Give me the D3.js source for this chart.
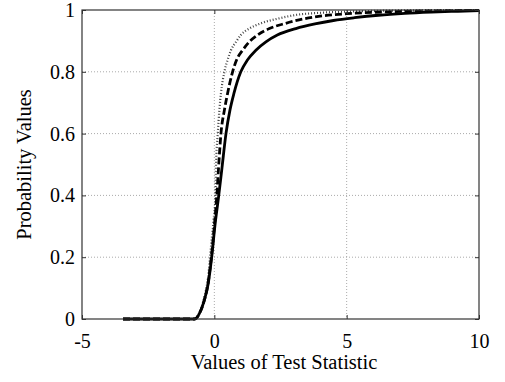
<!DOCTYPE html>
<html lang="en">
	<head>
		<meta charset="utf-8">
		<title>CDF of test statistic</title>
		<script type="text/javascript" src="https://d3js.org/d3.v7.min.js"></script>
		<style type="text/css">
			body {
				margin: 0;
				background-color: #ffffff;
			}
			svg text {
				font-family: "Liberation Serif", "Times New Roman", serif;
				fill: #000;
			}
			.tick text {
				font-size: 20px;
			}
		</style>
	</head>
	<body>
		<script type="text/javascript">

			// x tick values and y tick values
			var xTicks = [-5, 0, 5, 10];
			var yTicks = [0, 0.2, 0.4, 0.6, 0.8, 1];

			// Solid curve
			var solidX = [-3.45, -0.75, -0.5, -0.38, -0.23, -0.1, 0.02, 0.16, 0.29, 0.44, 0.59, 0.74, 1.0, 1.25, 1.57, 1.95, 2.38, 3.08, 3.8, 4.5, 5.3, 6.2, 7.2, 8.2, 9.2, 10];
			var solidP = [0, 0, 0.03, 0.06, 0.115, 0.2, 0.3, 0.395, 0.49, 0.6, 0.676, 0.73, 0.8, 0.838, 0.87, 0.897, 0.919, 0.94, 0.955, 0.966, 0.975, 0.983, 0.989, 0.993, 0.996, 0.998];

			// Dashed curve
			var dashX = [-3.45, -0.75, -0.5, -0.38, -0.23, -0.1, 0, 0.09, 0.16, 0.25, 0.38, 0.5, 0.69, 0.84, 1.07, 1.32, 1.63, 2.08, 2.7, 3.2, 4, 5, 6.5, 8, 10];
			var dashP = [0, 0, 0.03, 0.06, 0.12, 0.21, 0.3, 0.395, 0.49, 0.6, 0.676, 0.73, 0.8, 0.838, 0.87, 0.897, 0.919, 0.94, 0.957, 0.968, 0.98, 0.988, 0.994, 0.997, 0.999];

			// Dotted curve
			var dotX = [-3.45, -0.75, -0.5, -0.38, -0.23, -0.12, -0.03, 0.04, 0.06, 0.13, 0.19, 0.25, 0.38, 0.5, 0.63, 0.82, 1.0, 1.32, 1.76, 2.45, 3.08, 4, 5.5, 7.5, 10];
			var dotP = [0, 0, 0.035, 0.07, 0.14, 0.24, 0.32, 0.395, 0.49, 0.6, 0.676, 0.73, 0.8, 0.838, 0.87, 0.897, 0.919, 0.94, 0.957, 0.973, 0.984, 0.991, 0.996, 0.999, 1];

			//Width and height
			var w = 505;
			var h = 382;
			var mLeft = 82, mRight = 479, mTop = 10, mBottom = 319;

			var x = d3.scaleLinear().domain([-5, 10]).range([mLeft, mRight]);
			var y = d3.scaleLinear().domain([0, 1]).range([mBottom, mTop]);

			var svg = d3.select("body")
				.append("svg")
				.attr("width", w)
				.attr("height", h);

			// Grid lines
			svg.append("g")
				.selectAll("line")
				.data(xTicks.slice(1, -1))
				.enter().append("line")
				.attr("x1", function(d) { return x(d); })
				.attr("x2", function(d) { return x(d); })
				.attr("y1", mTop).attr("y2", mBottom)
				.attr("stroke", "#aaa")
				.attr("stroke-width", 1)
				.attr("stroke-dasharray", "1,2");

			svg.append("g")
				.selectAll("line")
				.data(yTicks.slice(1, -1))
				.enter().append("line")
				.attr("y1", function(d) { return y(d); })
				.attr("y2", function(d) { return y(d); })
				.attr("x1", mLeft).attr("x2", mRight)
				.attr("stroke", "#aaa")
				.attr("stroke-width", 1)
				.attr("stroke-dasharray", "1,2");

			// Curves
			var line = d3.line()
				.x(function(d) { return x(d[0]); })
				.y(function(d) { return y(d[1]); })
				.curve(d3.curveMonotoneX);

			function pairs(xs, ps) {
				return xs.map(function(v, i) { return [v, ps[i]]; });
			}

			svg.append("path")
				.datum(pairs(dotX, dotP))
				.attr("d", line)
				.attr("fill", "none")
				.attr("stroke", "#444")
				.attr("stroke-width", 2.2)
				.attr("stroke-dasharray", "1,2");

			svg.append("path")
				.datum(pairs(dashX, dashP))
				.attr("d", line)
				.attr("fill", "none")
				.attr("stroke", "#000")
				.attr("stroke-width", 2.8)
				.attr("stroke-dasharray", "7,3");

			svg.append("path")
				.datum(pairs(solidX, solidP))
				.attr("d", line)
				.attr("fill", "none")
				.attr("stroke", "#000")
				.attr("stroke-width", 2.8);

			// Axes (ticks inside, box around)
			var xAxis = svg.append("g")
				.attr("transform", "translate(0," + mBottom + ")")
				.call(d3.axisBottom(x).tickValues(xTicks).tickSize(-4).tickPadding(15)
					.tickFormat(function(d) { return String(d); }));
			xAxis.select(".domain").remove();
			xAxis.selectAll(".tick line").attr("stroke", "#333");

			var xAxisTop = svg.append("g")
				.attr("transform", "translate(0," + mTop + ")")
				.call(d3.axisTop(x).tickValues(xTicks).tickSize(-4).tickFormat(""));
			xAxisTop.select(".domain").remove();
			xAxisTop.selectAll(".tick line").attr("stroke", "#333");

			var yAxis = svg.append("g")
				.attr("transform", "translate(" + mLeft + ",0)")
				.call(d3.axisLeft(y).tickValues(yTicks).tickSize(-4).tickPadding(7)
					.tickFormat(function(d) { return d === 0 || d === 1 ? String(d) : d3.format(".1f")(d); }));
			yAxis.select(".domain").remove();
			yAxis.selectAll(".tick line").attr("stroke", "#333");

			var yAxisRight = svg.append("g")
				.attr("transform", "translate(" + mRight + ",0)")
				.call(d3.axisRight(y).tickValues(yTicks).tickSize(-4).tickFormat(""));
			yAxisRight.select(".domain").remove();
			yAxisRight.selectAll(".tick line").attr("stroke", "#333");

			svg.append("rect")
				.attr("x", mLeft).attr("y", mTop)
				.attr("width", mRight - mLeft).attr("height", mBottom - mTop)
				.attr("fill", "none")
				.attr("stroke", "#333")
				.attr("stroke-width", 1.2);

			// Axis labels
			svg.append("text")
				.attr("x", 284)
				.attr("y", 369)
				.attr("text-anchor", "middle")
				.attr("font-size", "20.5px")
				.text("Values of Test Statistic");

			svg.append("text")
				.attr("transform", "translate(31," + ((mTop + mBottom) / 2) + ") rotate(-90)")
				.attr("text-anchor", "middle")
				.attr("font-size", "20.5px")
				.text("Probability Values");

		</script>
	</body>
</html>
